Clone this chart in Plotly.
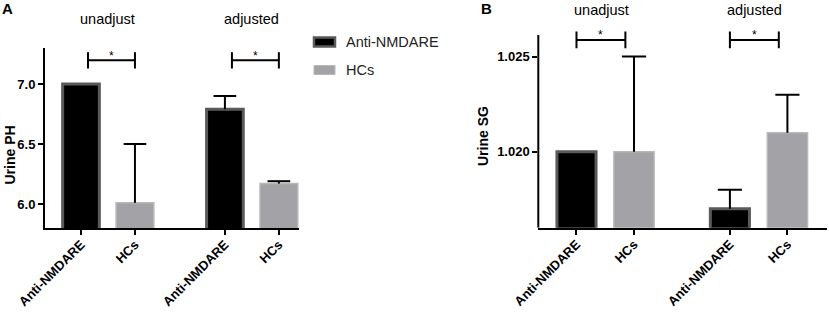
import plotly.graph_objects as go

# ---------------- data ----------------
groups = ["unadjust", "adjusted"]
series = ["Anti-NMDARE", "HCs"]
tick_labels = ["Anti-NMDARE", "HCs", "Anti-NMDARE", "HCs"]

ph_anti = [7.00, 6.79]
ph_anti_sd = [0.0, 0.11]
ph_hcs = [6.01, 6.17]
ph_hcs_sd = [0.49, 0.02]

sg_anti = [1.020, 1.017]
sg_anti_sd = [0.0, 0.001]
sg_hcs = [1.020, 1.021]
sg_hcs_sd = [0.005, 0.002]

# ---------------- layout helpers ----------------
W, H = 829, 317
GAP = 2.667  # distance between group starts (category units)
pos_anti = [g * GAP for g in range(len(groups))]
pos_hcs = [g * GAP + 1 for g in range(len(groups))]
tick_pos = [p for g in range(len(groups)) for p in (g * GAP, g * GAP + 1)]

BLACK_FILL, BLACK_EDGE = "#000000", "#5a5a5a"
GRAY_FILL, GRAY_EDGE = "#a3a3a7", "#b8b8b8"
FONT = "Liberation Sans, Arial, sans-serif"

fig = go.Figure()


def add_panel(xa, ya, anti, anti_sd, hcs, hcs_sd):
    fig.add_trace(go.Bar(x=pos_anti, y=anti, width=0.68, name=series[0],
                         marker=dict(color=BLACK_FILL, line=dict(color=BLACK_EDGE, width=3)),
                         xaxis=xa, yaxis=ya, showlegend=False))
    fig.add_trace(go.Bar(x=pos_hcs, y=hcs, width=0.70, name=series[1],
                         marker=dict(color=GRAY_FILL, line=dict(color=GRAY_EDGE, width=1.5)),
                         xaxis=xa, yaxis=ya, showlegend=False))
    # upward-only SD bars
    ex, ey = [], []
    for p, v, s in list(zip(pos_anti, anti, anti_sd)) + list(zip(pos_hcs, hcs, hcs_sd)):
        if s <= 0:
            continue
        ex += [p, p, None, p - 0.21, p + 0.21, None]
        ey += [v, v + s, None, v + s, v + s, None]
    fig.add_trace(go.Scatter(x=ex, y=ey, mode="lines", line=dict(color="black", width=2),
                             xaxis=xa, yaxis=ya, showlegend=False, hoverinfo="skip"))


add_panel("x", "y", ph_anti, ph_anti_sd, ph_hcs, ph_hcs_sd)
add_panel("x2", "y2", sg_anti, sg_anti_sd, sg_hcs, sg_hcs_sd)

# domains (pixel-derived)
A_x = [45 / W, 299 / W]
B_x = [538.3 / W, 826.7 / W]
A_y = [(H - 228) / H, (H - 48) / H]
B_y = [(H - 227.7) / H, (H - 30) / H]

axis_common = dict(showgrid=False, zeroline=False, ticks="outside", ticklen=5, tickwidth=2,
                   tickcolor="black", linecolor="black", linewidth=2, automargin=False,
                   tickfont=dict(family=FONT, size=13, color="black", weight="bold"))

fig.update_layout(
    width=W, height=H, margin=dict(l=0, r=0, t=0, b=0, autoexpand=False),
    paper_bgcolor="white", plot_bgcolor="white", showlegend=False, barmode="overlay",
    xaxis=dict(domain=A_x, range=[-0.667, 4.04], tickvals=tick_pos, ticktext=tick_labels,
               tickangle=-45, showline=True, anchor="y", ticklabelstandoff=-3, **axis_common),
    yaxis=dict(domain=A_y, range=[5.8, 7.3], tickvals=[6.0, 6.5, 7.0],
               ticktext=["6.0", "6.5", "7.0"], showline=True, anchor="x", **axis_common),
    xaxis2=dict(domain=B_x, range=[-0.664, 4.35], tickvals=tick_pos, ticktext=tick_labels,
                tickangle=-45, showline=True, anchor="y2", ticklabelstandoff=-3, **axis_common),
    yaxis2=dict(domain=B_y, range=[1.016, 1.0264], tickvals=[1.020, 1.025],
                ticktext=["1.020", "1.025"], showline=False, anchor="x2", **axis_common),
)

# y-axis line for panel B (stops below the significance bracket)
fig.add_shape(type="line", xref="paper", yref="y2", x0=B_x[0], x1=B_x[0], y0=1.016, y1=1.02614,
              line=dict(color="black", width=2))


def note(text, x, y, xref="paper", yref="paper", size=14, bold=False, angle=0, color="black",
         xanchor="center"):
    fig.add_annotation(xref=xref, yref=yref, x=x, y=y, text=text, textangle=angle,
                       showarrow=False, xanchor=xanchor, yanchor="middle",
                       font=dict(family=FONT, size=size, color=color,
                                 weight="bold" if bold else "normal"))


# significance brackets
def bracket(xa, ya, x0, x1, yc, half):
    for (a0, a1, b0, b1) in [(x0, x1, yc, yc), (x0, x0, yc - half, yc + half), (x1, x1, yc - half, yc + half)]:
        fig.add_shape(type="line", xref=xa, yref=ya, x0=a0, x1=a1, y0=b0, y1=b1,
                      line=dict(color="black", width=2))
    note("*", (x0 + x1) / 2, yc + half * 0.55, xref=xa, yref=ya, size=12)


for g in range(len(groups)):
    bracket("x", "y", g * GAP + 0.13, g * GAP + 1, 7.197, 0.068)
    bracket("x2", "y2", g * GAP + 0.0, g * GAP + 0.85, 1.02588, 0.00044)

# group labels
for xa, yy, off in [("x", 19, 0.5), ("x2", 10, 0.43)]:
    for g, name in enumerate(groups):
        note(name, g * GAP + off, 1 - yy / H, xref=xa, size=14.5)

# panel letters
for lbl, px in [("A", 7.5), ("B", 486)]:
    note(lbl, px / W, 1 - 8.5 / H, size=15, bold=True)

# y-axis titles
for txt, px, py in [("Urine PH", 9.5, 155), ("Urine SG", 483, 136)]:
    note(txt, px / W, 1 - py / H, size=14, bold=True, angle=-90)

# legend
for i, (name, fill, edge) in enumerate([(series[0], BLACK_FILL, BLACK_EDGE), (series[1], GRAY_FILL, GRAY_EDGE)]):
    cy = 42 + i * 28
    fig.add_shape(type="rect", xref="paper", yref="paper", x0=314 / W, x1=335 / W,
                  y0=1 - (cy + 4.5) / H, y1=1 - (cy - 4.5) / H, fillcolor=fill,
                  line=dict(color=edge, width=2.5 if i == 0 else 1))
    note(name, 344 / W, 1 - cy / H, size=14.5, color="#222", xanchor="left")

fig.write_html("out.html", config={"displayModeBar": False},
               post_script="document.body.style.margin='0';")
